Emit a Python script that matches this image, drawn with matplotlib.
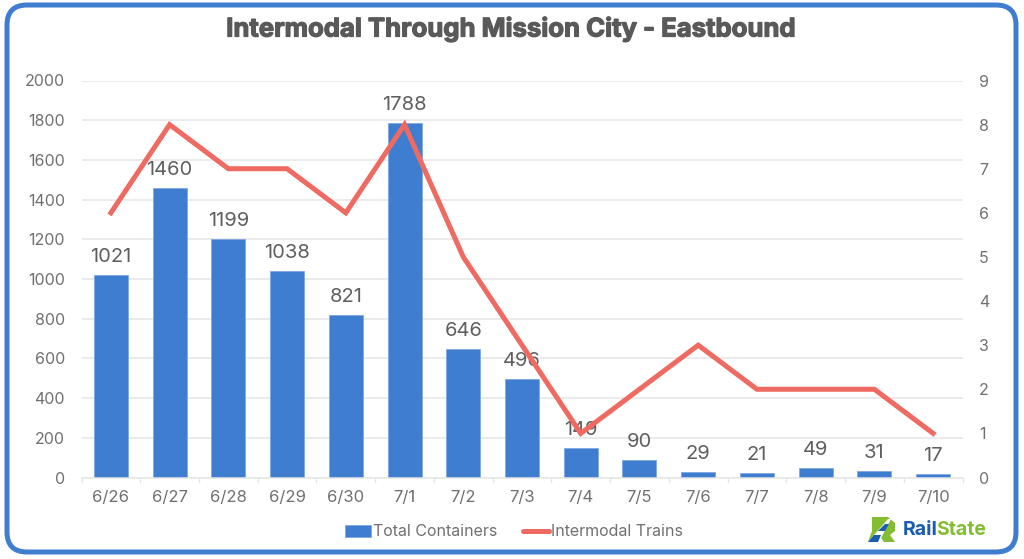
"""Intermodal through Mission City, eastbound: containers and trains by day."""

import matplotlib
matplotlib.use("Agg")
import matplotlib.pyplot as plt
import matplotlib.patheffects as pe
from matplotlib.patches import FancyBboxPatch, Polygon, Patch
from matplotlib.lines import Line2D

W, H = 1024, 559

dates = ["6/26", "6/27", "6/28", "6/29", "6/30", "7/1", "7/2", "7/3",
         "7/4", "7/5", "7/6", "7/7", "7/8", "7/9", "7/10"]
containers = [1021, 1460, 1199, 1038, 821, 1788, 646, 496,
              149, 90, 29, 21, 49, 31, 17]
trains = [6, 8, 7, 7, 6, 8, 5, 3, 1, 2, 3, 2, 2, 2, 1]

BLUE = "#3f7dd0"
RED = "#ef6a60"
GREY = "#707070"
GRID = "#e6e6e6"

plt.rcParams["font.family"] = ["Inter", "DejaVu Sans"]


def fx(px):
    return px / W


def fy(py):
    return 1 - py / H


fig = plt.figure(figsize=(W / 100, H / 100), dpi=100, facecolor="white")

# rounded frame around the whole chart, in pixel units
bg = fig.add_axes([0, 0, 1, 1], zorder=0)
bg.set_xlim(0, W)
bg.set_ylim(H, 0)
bg.axis("off")
bg.add_patch(FancyBboxPatch((7, 5), 1009, 547,
                            boxstyle="round,pad=0,rounding_size=20",
                            fc="white", ec=BLUE, lw=3.6))

ax = fig.add_axes([fx(81.5), fy(477.5), fx(881), (477.5 - 80.5) / H], zorder=2)
ax.patch.set_alpha(0)
x = range(len(dates))
ax.bar(x, containers, width=0.58, color=BLUE, edgecolor="#7fa8e2",
       lw=0.6, zorder=2)
ax.set_xlim(-0.5, len(dates) - 0.5)
ax.set_ylim(0, 2000)
ax.set_yticks(range(0, 2001, 200))
ax.set_xticks(list(x))
ax.set_xticklabels(dates)
ax.grid(axis="y", color=GRID, lw=1.1, zorder=0)
ax.set_axisbelow(True)
ax.tick_params(axis="y", length=0, labelsize=11.5, labelcolor=GREY, pad=12)
ax.tick_params(axis="x", length=0, labelsize=12, labelcolor=GREY, pad=9)
for side in ("top", "left", "right"):
    ax.spines[side].set_visible(False)
ax.spines["bottom"].set_color(GRID)
ax.spines["bottom"].set_linewidth(1.1)
for pos in range(len(dates) + 1):
    ax.plot([pos - 0.5, pos - 0.5], [-22, 0], color=GRID, lw=1.0,
            clip_on=False, zorder=1)

for i, v in enumerate(containers):
    ax.annotate(str(v), (i, v), xytext=(0, 6.5), textcoords="offset points",
                ha="center", va="bottom", fontsize=14.5, color="#5f5f5f",
                zorder=3)

ax2 = ax.twinx()
ax2.set_ylim(0, 9)
ax2.set_yticks(range(0, 10))
ax2.plot(x, trains, color=RED, lw=3.6, solid_joinstyle="miter", zorder=5)
ax2.tick_params(axis="y", length=0, labelsize=11.5, labelcolor=GREY, pad=12)
for side in ("top", "left", "right", "bottom"):
    ax2.spines[side].set_visible(False)

fig.text(fx(511.5), fy(29), "Intermodal Through Mission City - Eastbound",
         ha="center", va="center", fontsize=18.5, fontweight="bold",
         color="#595959",
         path_effects=[pe.withStroke(linewidth=0.9, foreground="#595959")])

handles = [Patch(fc=BLUE, ec="#7fa8e2", lw=0.6),
           Line2D([0], [0], color=RED, lw=3.6, solid_capstyle="round")]
fig.legend(handles, ["Total Containers", "Intermodal Trains"],
           loc="center", bbox_to_anchor=(fx(514), fy(532)), ncol=2, frameon=False,
           fontsize=11.5, labelcolor=GREY, handlelength=1.6, handleheight=0.8,
           handletextpad=0.15, columnspacing=1.6)

# RailState logo, bottom right
green = "#84bd32"
logo_blue = "#1a5cb0"
bg.add_patch(Polygon([(872, 517), (888, 517), (895, 523), (895, 531), (890, 535),
                     (895, 542), (884, 542), (879, 535), (872, 542), (868, 542),
                     (872, 531)], fc=green, ec="none"))
bg.add_patch(Polygon([(888, 519), (891, 519), (879, 542), (868, 542)],
                     fc="white", ec="none"))
bg.add_patch(Polygon([(885, 524), (889, 524), (885, 531), (878, 531)],
                     fc=logo_blue, ec="none"))
bg.add_patch(Polygon([(874, 535), (881, 535), (878, 542), (868, 542)],
                     fc=logo_blue, ec="none"))
rail = fig.text(fx(903), fy(530), "Rail", ha="left", va="center", fontsize=14,
                fontweight="bold", color=logo_blue)
fig.canvas.draw()
box = rail.get_window_extent()
fig.text((box.x1 - 1.5) / W, fy(530), "State", ha="left", va="center", fontsize=14,
         fontweight="bold", color=green)

fig.savefig("out.png", dpi=100)
